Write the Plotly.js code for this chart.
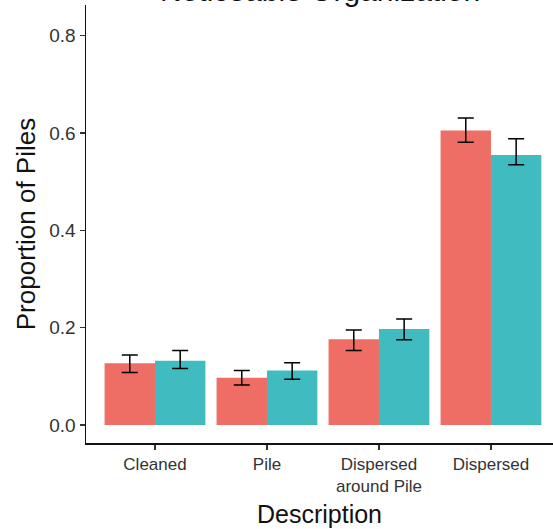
<!DOCTYPE html>
<html>
<head>
<meta charset="utf-8">
<script src="https://cdn.plot.ly/plotly-3.0.1.min.js"></script>
<style>html,body{margin:0;padding:0;background:#fff;}#chart{width:553px;height:529px;}</style>
</head>
<body>
<div id="chart"></div>
<script>
const categories = ["Cleaned", "Pile", "Dispersed<br>around Pile", "Dispersed"];
const seriesA = [0.127, 0.097, 0.176, 0.605];
const seriesAUpper = [0.017, 0.015, 0.019, 0.026];
const seriesALower = [0.019, 0.015, 0.023, 0.024];
const seriesB = [0.132, 0.112, 0.197, 0.555];
const seriesBUpper = [0.021, 0.016, 0.021, 0.033];
const seriesBLower = [0.016, 0.018, 0.022, 0.020];
const yTicks = [0.0, 0.2, 0.4, 0.6, 0.8];
const yTickText = ["0.0", "0.2", "0.4", "0.6", "0.8"];
const chartTitle = "Noticeable Organization";

const errStyle = {type: 'data', visible: true, thickness: 1.5, width: 8, color: '#000'};
const traces = [
  {type: 'bar', x: categories, y: seriesA, name: 'A',
   marker: {color: '#EE6D64'},
   error_y: Object.assign({array: seriesAUpper, arrayminus: seriesALower}, errStyle)},
  {type: 'bar', x: categories, y: seriesB, name: 'B',
   marker: {color: '#40BCC0'},
   error_y: Object.assign({array: seriesBUpper, arrayminus: seriesBLower}, errStyle)}
];

const layout = {
  width: 553, height: 529,
  margin: {l: 86, r: 0, t: 5, b: 86},
  paper_bgcolor: '#fff', plot_bgcolor: '#fff',
  showlegend: false,
  barmode: 'group', bargap: 0.1, bargroupgap: 0,
  font: {family: 'Liberation Sans, Arial, sans-serif', color: '#222'},
  annotations: [{
    text: chartTitle, xref: 'paper', yref: 'paper', x: 0.5, y: 0.991,
    xanchor: 'center', yanchor: 'bottom', showarrow: false,
    font: {size: 30, color: '#111'}
  }],
  xaxis: {
    type: 'category', range: [-0.616, 3.554],
    showline: true, linecolor: '#111', linewidth: 1.5,
    ticks: 'outside', ticklen: 5, tickcolor: '#333', tickwidth: 1.2,
    showgrid: false, zeroline: false,
    tickfont: {size: 17, color: '#333'},
    title: {text: 'Description', font: {size: 25, color: '#111'}, standoff: 10}
  },
  yaxis: {
    range: [-0.037, 0.863],
    tickvals: yTicks, ticktext: yTickText,
    showline: true, linecolor: '#111', linewidth: 1.5,
    ticks: 'outside', ticklen: 5, tickcolor: '#333', tickwidth: 1.2,
    showgrid: false, zeroline: false,
    tickfont: {size: 19, color: '#333'},
    title: {text: 'Proportion of Piles', font: {size: 26, color: '#111'}, standoff: 6}
  }
};

Plotly.newPlot('chart', traces, layout, {displayModeBar: false, staticPlot: true});
</script>
</body>
</html>
